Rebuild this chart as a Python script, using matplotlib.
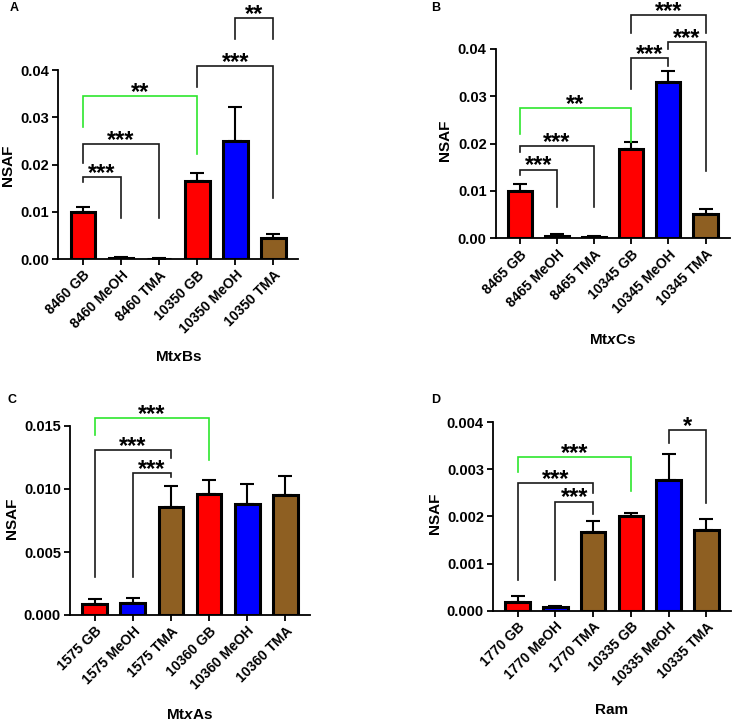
import matplotlib
matplotlib.use("Agg")
import matplotlib.pyplot as plt

plt.rcParams['font.family'] = ['Liberation Sans', 'DejaVu Sans']
plt.rcParams['font.weight'] = 'bold'
plt.rcParams['mathtext.fontset'] = 'custom'
plt.rcParams['mathtext.rm'] = 'Liberation Sans:bold'
plt.rcParams['mathtext.it'] = 'Liberation Sans:italic:bold'
plt.rcParams['mathtext.bf'] = 'Liberation Sans:bold'

RED = '#FF0000'
BLUE = '#0000FF'
BROWN = '#8E5F22'
GREEN = '#2EE62E'
BLACK = '#1A1A1A'

# ---------------- data ----------------
A_labels = ['8460 GB', '8460 MeOH', '8460 TMA', '10350 GB', '10350 MeOH', '10350 TMA']
A_means = [0.0100, 0.0002, 0.0001, 0.0166, 0.0250, 0.0044]
A_err = [0.0009, 0.0002, 0.0001, 0.0016, 0.0072, 0.0008]
A_yticks = [0.00, 0.01, 0.02, 0.03, 0.04]
A_yticklabels = ['0.00', '0.01', '0.02', '0.03', '0.04']
A_xlabel = r'Mt$\it{x}$Bs'
A_brackets = [  # (i, j, height, left leg end, right leg end, stars, colour)
    (0, 1, 0.0174, 0.0164, 0.0087, '***', BLACK),
    (0, 2, 0.0243, 0.0203, 0.0087, '***', BLACK),
    (0, 3, 0.0344, 0.0280, 0.0222, '**', GREEN),
    (3, 5, 0.0409, 0.0363, 0.0129, '***', BLACK),
    (4, 5, 0.0509, 0.0466, 0.0466, '**', BLACK),
]

B_labels = ['8465 GB', '8465 MeOH', '8465 TMA', '10345 GB', '10345 MeOH', '10345 TMA']
B_means = [0.0099, 0.0005, 0.0002, 0.0188, 0.0330, 0.0051]
B_err = [0.0015, 0.0005, 0.0002, 0.0016, 0.0024, 0.0011]
B_yticks = [0.00, 0.01, 0.02, 0.03, 0.04]
B_yticklabels = ['0.00', '0.01', '0.02', '0.03', '0.04']
B_xlabel = r'Mt$\it{x}$Cs'
B_brackets = [
    (0, 1, 0.0145, 0.0134, 0.0067, '***', BLACK),
    (0, 2, 0.0195, 0.0183, 0.0067, '***', BLACK),
    (0, 3, 0.0275, 0.0221, 0.0204, '**', GREEN),
    (3, 4, 0.0380, 0.0315, 0.0364, '***', BLACK),
    (4, 5, 0.0414, 0.0401, 0.0142, '***', BLACK),
    (3, 5, 0.0471, 0.0433, 0.0434, '***', BLACK),
]

C_labels = ['1575 GB', '1575 MeOH', '1575 TMA', '10360 GB', '10360 MeOH', '10360 TMA']
C_means = [0.00085, 0.00095, 0.0086, 0.0096, 0.0088, 0.0095]
C_err = [0.0004, 0.0004, 0.0016, 0.0011, 0.0016, 0.0015]
C_yticks = [0.000, 0.005, 0.010, 0.015]
C_yticklabels = ['0.000', '0.005', '0.010', '0.015']
C_xlabel = r'Mt$\it{x}$As'
C_brackets = [
    (1, 2, 0.01127, 0.0030, 0.01095, '***', BLACK),
    (0, 2, 0.0131, 0.0030, 0.01246, '***', BLACK),
    (0, 3, 0.01563, 0.01429, 0.0123, '***', GREEN),
]

D_labels = ['1770 GB', '1770 MeOH', '1770 TMA', '10335 GB', '10335 MeOH', '10335 TMA']
D_means = [0.00019, 0.00007, 0.00167, 0.00201, 0.00278, 0.00171]
D_err = [0.00012, 0.00004, 0.00023, 0.00007, 0.00054, 0.00024]
D_yticks = [0.000, 0.001, 0.002, 0.003, 0.004]
D_yticklabels = ['0.000', '0.001', '0.002', '0.003', '0.004']
D_xlabel = 'Ram'
D_brackets = [
    (1, 2, 0.00231, 0.00065, 0.00206, '***', BLACK),
    (0, 2, 0.0027, 0.00065, 0.0025, '***', BLACK),
    (0, 3, 0.00325, 0.00293, 0.00254, '***', GREEN),
    (4, 5, 0.00383, 0.00355, 0.00229, '*', BLACK),
]

bar_colors = [RED, BLUE, BROWN, RED, BLUE, BROWN]

fig = plt.figure(figsize=(7.36, 7.21), dpi=100)

W, H = 736.0, 721.0


def axes_px(l, r, t, b):
    return fig.add_axes([l / W, 1 - b / H, (r - l) / W, (b - t) / H])


panels = [
    dict(box=(58.3, 298, 70, 259), labels=A_labels, means=A_means, err=A_err,
         yticks=A_yticks, ytl=A_yticklabels, xlabel=A_xlabel, br=A_brackets,
         letter='A', letter_xy=(10, 8), ylab_xy=(8, 165), xlab_y=357),
    dict(box=(495.7, 729.7, 49, 238.3), labels=B_labels, means=B_means, err=B_err,
         yticks=B_yticks, ytl=B_yticklabels, xlabel=B_xlabel, br=B_brackets,
         letter='B', letter_xy=(431, 8), ylab_xy=(445, 140), xlab_y=340),
    dict(box=(70, 310, 426, 615), labels=C_labels, means=C_means, err=C_err,
         yticks=C_yticks, ytl=C_yticklabels, xlabel=C_xlabel, br=C_brackets,
         letter='C', letter_xy=(7, 400), ylab_xy=(12, 518), xlab_y=715),
    dict(box=(493, 731, 422, 610.7), labels=D_labels, means=D_means, err=D_err,
         yticks=D_yticks, ytl=D_yticklabels, xlabel=D_xlabel, br=D_brackets,
         letter='D', letter_xy=(431, 400), ylab_xy=(435, 513), xlab_y=710),
]

for p in panels:
    l, r, t, b = p['box']
    ax = axes_px(l, r, t, b)
    x = list(range(len(p['labels'])))
    ax.bar(x, p['means'], width=0.65, color=bar_colors, edgecolor='black',
           linewidth=2.2, zorder=3)
    ax.errorbar(x, p['means'], yerr=[[0] * len(x), p['err']], fmt='none',
                ecolor='black', elinewidth=1.5, capsize=5, capthick=1.5, zorder=2)
    ax.set_xlim(-0.65, 5.65)
    ax.set_ylim(p['yticks'][0], p['yticks'][-1])
    ax.set_yticks(p['yticks'])
    ax.set_yticklabels(p['ytl'], fontsize=10.5, fontweight='bold')
    ax.set_xticks(x)
    ax.set_xticklabels(p['labels'], rotation=45, ha='right', va='top',
                       rotation_mode='anchor', fontsize=10, fontweight='bold')
    for s in ['top', 'right']:
        ax.spines[s].set_visible(False)
    for s in ['left', 'bottom']:
        ax.spines[s].set_linewidth(1.3)
    ax.tick_params(axis='both', length=4.5, width=1.3, pad=2)
    # brackets
    for (i, j, h, lb, rb, stars, col) in p['br']:
        ax.plot([i, i, j, j], [lb, h, h, rb], color=col, linewidth=1.2,
                clip_on=False, zorder=4, solid_joinstyle='miter')
        ax.annotate(stars, xy=((i + j) / 2, h), xytext=(0, -2.0),
                    textcoords='offset points', ha='center', va='baseline',
                    fontsize=17, fontweight='bold', annotation_clip=False)
    # labels
    lx, ly = p['letter_xy']
    fig.text(lx / W, 1 - ly / H, p['letter'], fontsize=9, fontweight='bold',
             ha='left', va='center')
    yx, yy = p['ylab_xy']
    fig.text(yx / W, 1 - yy / H, 'NSAF', fontsize=11, fontweight='bold',
             rotation=90, ha='center', va='center')
    fig.text((l + r) / 2 / W, 1 - p['xlab_y'] / H, p['xlabel'], fontsize=11,
             fontweight='bold', ha='center', va='center')

fig.savefig('out.png', dpi=100)
